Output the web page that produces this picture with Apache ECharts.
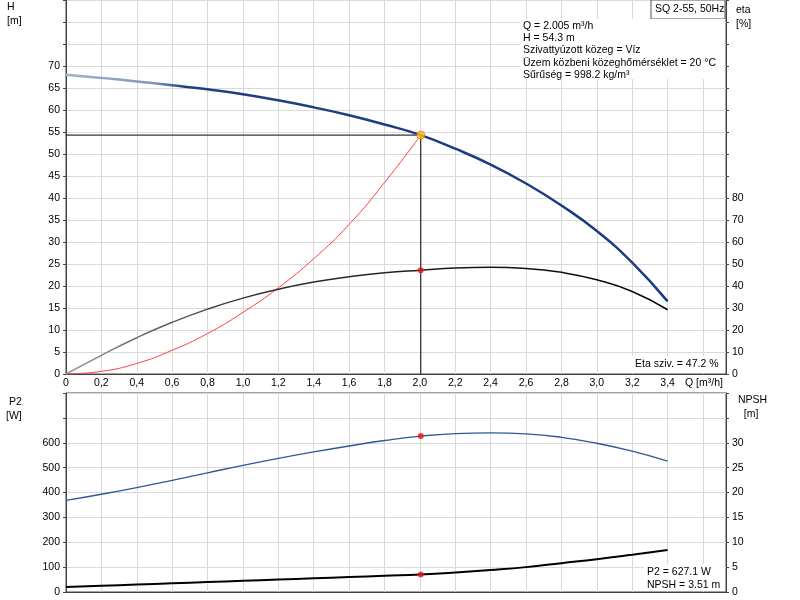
<html>
<head>
<meta charset="utf-8">
<script src="https://cdn.jsdelivr.net/npm/echarts@6/dist/echarts.min.js"></script>
</head>
<body>
<style>
    html, body { width: 100%; height: 100%; margin: 0; background: #fff; }
    #main { width: 800px; height: 600px; }
</style>
<div id="main"></div>
<script>
// flow Q [m3/h]
var qH = [0, 0.2, 0.4, 0.6, 0.8, 1.0, 1.2, 1.4, 1.6, 1.8, 2.005, 2.2, 2.4, 2.6, 2.8, 3.0, 3.2, 3.4];
var head = [68, 67.3, 66.5, 65.6, 64.7, 63.6, 62.2, 60.6, 58.8, 56.7, 54.3, 51.2, 47.6, 43.3, 38.3, 32.5, 25.3, 16.5];
var qEta = [0, 0.2, 0.4, 0.6, 0.8, 1.0, 1.2, 1.4, 1.6, 1.8, 2.005, 2.2, 2.4, 2.6, 2.8, 3.0, 3.2, 3.4];
var eta = [0, 8.5, 16.5, 23.5, 29.5, 34.5, 38.5, 41.8, 44.2, 46, 47.2, 48.2, 48.5, 48, 46.2, 42.8, 37.5, 29.2];
var qSys = [0, 0.2, 0.4, 0.6, 0.8, 1.0, 1.2, 1.4, 1.6, 1.8, 2.005];
var sysHead = [0, 0.6, 2.4, 5.4, 9.2, 14, 19.6, 26.2, 34, 43.5, 54.3];
var qP = [0, 0.2, 0.4, 0.6, 0.8, 1.0, 1.2, 1.4, 1.6, 1.8, 2.005, 2.2, 2.4, 2.6, 2.8, 3.0, 3.2, 3.4];
var p2 = [368, 393, 420, 449, 479, 509, 537, 563, 587, 609, 627, 637, 640, 636, 622, 598, 566, 526];
var npsh = [1.0, 1.25, 1.5, 1.75, 2.0, 2.25, 2.5, 2.75, 3.0, 3.25, 3.51, 3.9, 4.4, 5.0, 5.8, 6.6, 7.5, 8.45];
var qGrid = [0.2, 0.4, 0.6, 0.8, 1.0, 1.2, 1.4, 1.6, 1.8, 2.0, 2.2, 2.4, 2.6, 2.8, 3.0, 3.2, 3.4, 3.6];
var opQ = 2.005, opH = 54.3, opEta = 47.2, opP2 = 627.1, opNpsh = 3.51;

function pairs(xs, ys) { return xs.map(function (x, i) { return [x, ys[i]]; }); }
var font = 'Liberation Sans';
var grey = '#d9d9d9';
function fmt(limit, dec) {
    return function (v) {
        if (v > limit + 1e-9) return '';
        return dec && v > 0 ? v.toFixed(1).replace('.', ',') : String(Math.round(v));
    };
}
function xAx(idx, labels) {
    return { gridIndex: idx, type: 'value', min: 0, max: 3.73, interval: 0.2,
        axisLine: { lineStyle: { color: '#444' } }, axisTick: { show: false },
        axisLabel: { show: labels, formatter: fmt(3.4, true), color: '#000', fontSize: 10.5, margin: 4, showMaxLabel: false },
        splitLine: { show: false } };
}
function yAx(idx, max, step, limit, right, split) {
    return { gridIndex: idx, type: 'value', min: 0, max: max, interval: step, position: right ? 'right' : 'left',
        axisLine: { show: true, lineStyle: { color: '#444' } }, axisTick: { show: true, length: 3 },
        axisLabel: { formatter: fmt(limit, false), color: '#000', fontSize: 10.5, margin: 6 },
        splitLine: { show: split, lineStyle: { color: grey } } };
}
function vGrid(idx) {
    return { type: 'line', xAxisIndex: idx, yAxisIndex: idx * 2, data: [], silent: true, z: 0,
        markLine: { silent: true, symbol: 'none', label: { show: false }, animation: false, z: 0,
            lineStyle: { color: grey, type: 'solid', width: 1 },
            data: qGrid.map(function (q) { return { xAxis: q }; }) } };
}

var chart = echarts.init(document.getElementById('main'));
var option = {
    animation: false,
    textStyle: { fontFamily: font, fontSize: 11, color: '#000' },
    grid: [
        { left: 66, right: 74, top: 0, height: 374, show: true, borderColor: '#444', borderWidth: 1 },
        { left: 66, right: 74, top: 393, height: 199, show: true, borderColor: '#444', borderWidth: 1 }
    ],
    xAxis: [xAx(0, true), xAx(1, false)],
    yAxis: [
        yAx(0, 85, 5, 70, false, true),
        yAx(0, 170, 10, 80, true, false),
        yAx(1, 800, 100, 600, false, true),
        yAx(1, 40, 5, 30, true, false)
    ],
    series: [
        vGrid(0), vGrid(1),
        { type: 'line', xAxisIndex: 0, yAxisIndex: 0, data: pairs(qSys, sysHead), smooth: true, symbol: 'none',
          lineStyle: { color: '#ff4040', width: 1 } },
        { type: 'line', xAxisIndex: 0, yAxisIndex: 0, data: [[0, opH], [opQ, opH]], symbol: 'none', z: 10,
          lineStyle: { color: '#000', width: 1 } },
        { type: 'line', xAxisIndex: 0, yAxisIndex: 0, data: [[opQ, opH], [opQ, 0]], symbol: 'none', z: 10,
          lineStyle: { color: '#000', width: 1 } },
        { type: 'line', xAxisIndex: 0, yAxisIndex: 1, data: pairs(qEta, eta), smooth: true, symbol: 'none', z: 11,
          lineStyle: { width: 1.5, color: new echarts.graphic.LinearGradient(0, 0, 1, 0,
              [{ offset: 0, color: '#999' }, { offset: 0.3, color: '#333' }, { offset: 1, color: '#000' }]) } },
        { type: 'line', xAxisIndex: 0, yAxisIndex: 0, data: pairs(qH, head), smooth: true, symbol: 'none', z: 12,
          lineStyle: { width: 2.5, color: new echarts.graphic.LinearGradient(0, 0, 1, 0,
              [{ offset: 0, color: '#9fb3cc' }, { offset: 0.15, color: '#7f98bb' }, { offset: 0.2, color: '#1f3f80' }, { offset: 1, color: '#1a3c84' }]) } },
        { type: 'scatter', xAxisIndex: 0, yAxisIndex: 0, data: [[opQ, opH]], symbolSize: 8, z: 13,
          itemStyle: { color: '#ffc020', borderColor: '#e08000', borderWidth: 1 } },
        { type: 'scatter', xAxisIndex: 0, yAxisIndex: 1, data: [[opQ, opEta]], symbolSize: 6, z: 13,
          itemStyle: { color: '#ee1111' } },
        { type: 'line', xAxisIndex: 1, yAxisIndex: 2, data: pairs(qP, p2), smooth: true, symbol: 'none', z: 10,
          lineStyle: { color: '#2c5a96', width: 1.3 } },
        { type: 'line', xAxisIndex: 1, yAxisIndex: 3, data: pairs(qP, npsh), smooth: true, symbol: 'none', z: 10,
          lineStyle: { color: '#000', width: 2 } },
        { type: 'scatter', xAxisIndex: 1, yAxisIndex: 2, data: [[opQ, opP2]], symbolSize: 6, z: 13,
          itemStyle: { color: '#ee1111' } },
        { type: 'scatter', xAxisIndex: 1, yAxisIndex: 3, data: [[opQ, opNpsh]], symbolSize: 6, z: 13,
          itemStyle: { color: '#ee1111' } }
    ],
    graphic: [
        { type: 'text', z: 100, left: 7, top: 0, style: { text: 'H\n[m]', fontFamily: font, fontSize: 10.5, lineHeight: 14, align: 'center' } },
        { type: 'text', z: 100, left: 736, top: 3, style: { text: 'eta\n[%]', fontFamily: font, fontSize: 10.5, lineHeight: 14, align: 'center' } },
        { type: 'text', z: 100, left: 6, top: 395, style: { text: ' P2\n[W]', fontFamily: font, fontSize: 10.5, lineHeight: 14, align: 'center' } },
        { type: 'text', z: 100, left: 738, top: 393, style: { text: 'NPSH\n  [m]', fontFamily: font, fontSize: 10.5, lineHeight: 14, align: 'center' } },
        { type: 'text', z: 100, left: 685, top: 378, style: { text: 'Q [m³/h]', fontFamily: font, fontSize: 10.5 } },
        { type: 'rect', z: 100, shape: { x: 651, y: 0, width: 74, height: 19 }, style: { fill: '#fff', stroke: '#555', lineWidth: 1 } },
        { type: 'text', z: 101, left: 655, top: 4, style: { text: 'SQ 2-55, 50Hz', fontFamily: font, fontSize: 10.5 } },
        { type: 'rect', z: 100, shape: { x: 520, y: 19, width: 205, height: 60 }, style: { fill: '#fff' } },
        { type: 'text', z: 101, left: 523, top: 20, style: { text: 'Q = 2.005 m³/h\nH = 54.3 m\nSzivattyúzott közeg = Víz\nÜzem közbeni közeghőmérséklet = 20 °C\nSűrűség = 998.2 kg/m³', fontFamily: font, fontSize: 10.5, lineHeight: 12.2 } },
        { type: 'rect', z: 100, shape: { x: 632, y: 356, width: 93, height: 17 }, style: { fill: '#fff' } },
        { type: 'text', z: 101, left: 635, top: 359, style: { text: 'Eta sziv. = 47.2 %', fontFamily: font, fontSize: 10.5 } },
        { type: 'rect', z: 100, shape: { x: 644, y: 564, width: 81, height: 27 }, style: { fill: '#fff' } },
        { type: 'text', z: 101, left: 647, top: 566, style: { text: 'P2 = 627.1 W\nNPSH = 3.51 m', fontFamily: font, fontSize: 10.5, lineHeight: 12.5 } }
    ]
};
chart.setOption(option);
window.onresize = chart.resize;
</script>
</body>
</html>
